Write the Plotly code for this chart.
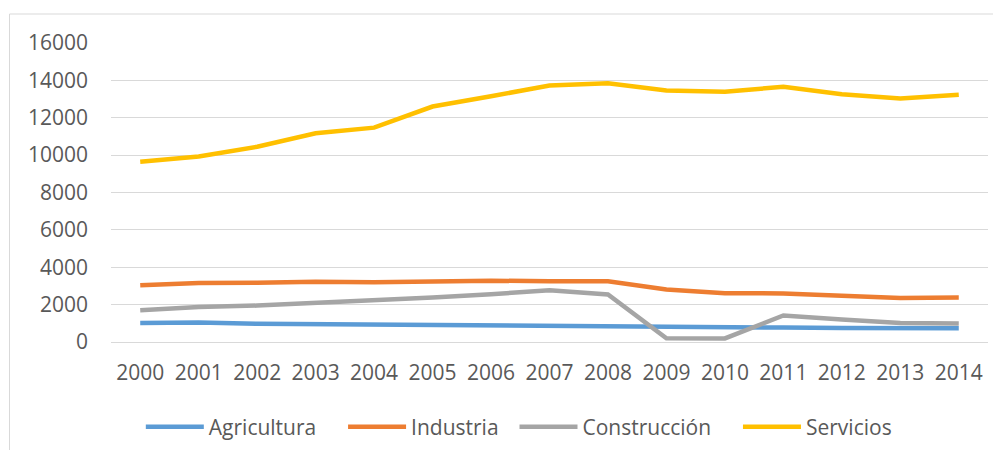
import plotly.graph_objects as go

years = [str(y) for y in range(2000, 2015)]

agricultura = [1020, 1040, 980, 950, 960, 920, 900, 860, 830, 800, 790, 770, 750, 740, 740]
industria = [3040, 3160, 3170, 3230, 3200, 3260, 3280, 3250, 3250, 2810, 2610, 2600, 2480, 2360, 2380]
construccion = [1700, 1870, 1950, 2100, 2200, 2380, 2560, 2770, 2540, 200, 190, 1420, 1210, 1020, 990]
servicios = [9650, 9930, 10450, 11170, 11470, 12600, 13150, 13730, 13850, 13460, 13390, 13660, 13260, 13030, 13230]

nb = "\u00a0"  # a little extra room between legend entries
series = [
    ("Agricultura" + nb * 4, agricultura, "#5B9BD5"),
    ("Industria" + nb * 2, industria, "#ED7D31"),
    ("Construcción" + nb * 4, construccion, "#A5A5A5"),
    ("Servicios", servicios, "#FFC000"),
]

fig = go.Figure()
for name, vals, color in series:
    fig.add_trace(go.Scatter(x=years, y=vals, mode="lines", name=name,
                             line=dict(color=color, width=4.5)))

font = dict(family="Open Sans", size=21, color="#595959")

# page body has an 8px margin, so the figure is a bit smaller than the window
fig.update_layout(
    width=993, height=442,
    margin=dict(l=103, r=13, t=35, b=108, autoexpand=False),
    paper_bgcolor="white", plot_bgcolor="white",
    font=font,
    showlegend=True,
    legend=dict(orientation="h", x=0.034, xanchor="left", y=-0.285, yanchor="middle",
                font=font, itemwidth=58, traceorder="normal"),
    xaxis=dict(type="category", range=[-0.5, 14.5], showgrid=False,
               showline=False, ticks="", ticklabelstandoff=16, tickfont=font),
    yaxis=dict(range=[0, 16000], dtick=2000, tickformat="d", showgrid=True,
               gridcolor="#D9D9D9", gridwidth=1, zeroline=True,
               zerolinecolor="#D9D9D9", zerolinewidth=1,
               ticks="", ticklabelstandoff=22, tickfont=font, showline=False),
)

# outer chart border (only top and left visible in the picture)
fig.add_shape(type="rect", xref="paper", yref="paper",
              x0=(9.5 - 111) / 877, x1=(1003 - 111) / 877,
              y0=(342 - 470) / 299, y1=(342 - 14) / 299,
              line=dict(color="#D9D9D9", width=1), layer="below")

fig.write_html("out.html")
